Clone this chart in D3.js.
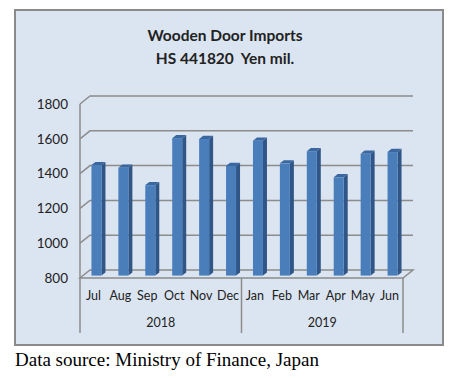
<!DOCTYPE html>
<html>
<head>
<meta charset="utf-8">
<script src="https://cdn.jsdelivr.net/npm/d3@7"></script>
<style>
  html, body { margin: 0; padding: 0; background: #fff; }
  svg { display: block; }
  text { font-family: Lato, 'Open Sans', sans-serif; fill: #222; }
</style>
</head>
<body>
<div id="chart"></div>
<script>
const months = ['Jul', 'Aug', 'Sep', 'Oct', 'Nov', 'Dec', 'Jan', 'Feb', 'Mar', 'Apr', 'May', 'Jun'];
const years = ['2018', '2019'];
const imports = [1435, 1420, 1320, 1590, 1585, 1430, 1575, 1445, 1515, 1365, 1500, 1510];
const yTicks = [800, 1000, 1200, 1400, 1600, 1800];

const width = 463;
const height = 378;
const left = 80;
const right = 403;
const floorY = 278;
const topY = 104;
// offset of the back wall from the front plane
const dx = 10;
const dy = -8;
const faceW = 10;

const svg = d3.select('#chart')
  .append('svg')
  .attr('width', width)
  .attr('height', height);

svg.append('rect')
  .attr('x', 15)
  .attr('y', 10)
  .attr('width', 428)
  .attr('height', 335)
  .attr('fill', '#dbe5f1')
  .attr('stroke', '#8a8a8a')
  .attr('stroke-width', 2);

svg.append('text')
  .attr('x', 225)
  .attr('y', 41)
  .attr('text-anchor', 'middle')
  .attr('font-weight', 'bold')
  .attr('font-size', 15.5)
  .text('Wooden Door Imports');

svg.append('text')
  .attr('x', 225)
  .attr('y', 64)
  .attr('text-anchor', 'middle')
  .attr('font-weight', 'bold')
  .attr('font-size', 15.5)
  .attr('xml:space', 'preserve')
  .text('HS 441820  Yen mil.');

const x = d3.scaleBand().domain(months).range([left, right]);
const y = d3.scaleLinear().domain([800, 1800]).range([floorY, topY]);
const yearX = d3.scaleBand().domain(years).range([left, right]);

const line = d3.line();

// floor
svg.append('path')
  .attr('d', line([[left, floorY], [right, floorY], [right + dx, floorY + dy], [left + dx, floorY + dy]]) + 'Z')
  .attr('fill', 'none')
  .attr('stroke', '#8c8c8c')
  .attr('stroke-width', 1.5);

// gridlines on side and back wall
svg.append('g')
  .selectAll('path')
  .data(yTicks.slice(1))
  .join('path')
  .attr('d', (d) => line([[left, y(d)], [left + dx, y(d) + dy], [right + dx, y(d) + dy]]))
  .attr('fill', 'none')
  .attr('stroke', '#8c8c8c')
  .attr('stroke-width', 1.5);

// axis lines
svg.append('path')
  .attr('d', line([[left, y(1800)], [left, 333]]))
  .attr('stroke', '#8c8c8c')
  .attr('stroke-width', 1.5);

svg.append('g')
  .selectAll('line')
  .data([yearX('2019'), right])
  .join('line')
  .attr('x1', (d) => d)
  .attr('x2', (d) => d)
  .attr('y1', floorY)
  .attr('y2', 333)
  .attr('stroke', '#8c8c8c')
  .attr('stroke-width', 1.5);

svg.append('g')
  .selectAll('text')
  .data(yTicks)
  .join('text')
  .attr('x', 68)
  .attr('y', (d) => y(d))
  .attr('dy', '0.35em')
  .attr('text-anchor', 'end')
  .attr('font-size', 13.5)
  .text((d) => d);

svg.append('g')
  .selectAll('text')
  .data(months)
  .join('text')
  .attr('x', (d) => x(d) + x.bandwidth() / 2)
  .attr('y', 296)
  .attr('dy', '0.35em')
  .attr('text-anchor', 'middle')
  .attr('font-size', 12.5)
  .text((d) => d);

svg.append('g')
  .selectAll('text')
  .data(years)
  .join('text')
  .attr('x', (d) => yearX(d) + yearX.bandwidth() / 2)
  .attr('y', 323)
  .attr('dy', '0.35em')
  .attr('text-anchor', 'middle')
  .attr('font-size', 12.5)
  .text((d) => d);

// 3d bars
const bars = months.map((m, i) => {
  const x0 = x(m) + x.bandwidth() / 2 + 0.3 * dx - faceW / 2;
  return {
    x0,
    x1: x0 + faceW,
    top: y(imports[i]) + 0.3 * dy,
    bottom: y(800) + 0.3 * dy,
  };
});
const ddx = 0.4 * dx;
const ddy = 0.4 * dy;

const barG = svg.append('g')
  .selectAll('g')
  .data(bars)
  .join('g');

barG.append('path')
  .attr('d', (b) => line([[b.x1, b.top], [b.x1 + ddx, b.top + ddy], [b.x1 + ddx, b.bottom + ddy], [b.x1, b.bottom]]) + 'Z')
  .attr('fill', '#2f5686');

barG.append('path')
  .attr('d', (b) => line([[b.x0, b.top], [b.x0 + ddx, b.top + ddy], [b.x1 + ddx, b.top + ddy], [b.x1, b.top]]) + 'Z')
  .attr('fill', '#3a67a0');

barG.append('rect')
  .attr('x', (b) => b.x0)
  .attr('y', (b) => b.top)
  .attr('width', faceW)
  .attr('height', (b) => b.bottom - b.top)
  .attr('fill', '#4a7ebb');

svg.append('text')
  .attr('x', 15)
  .attr('y', 366)
  .style('font-family', "'Liberation Serif', 'Times New Roman', serif")
  .style('fill', '#000')
  .attr('font-size', 19)
  .text('Data source: Ministry of Finance, Japan');
</script>
</body>
</html>
